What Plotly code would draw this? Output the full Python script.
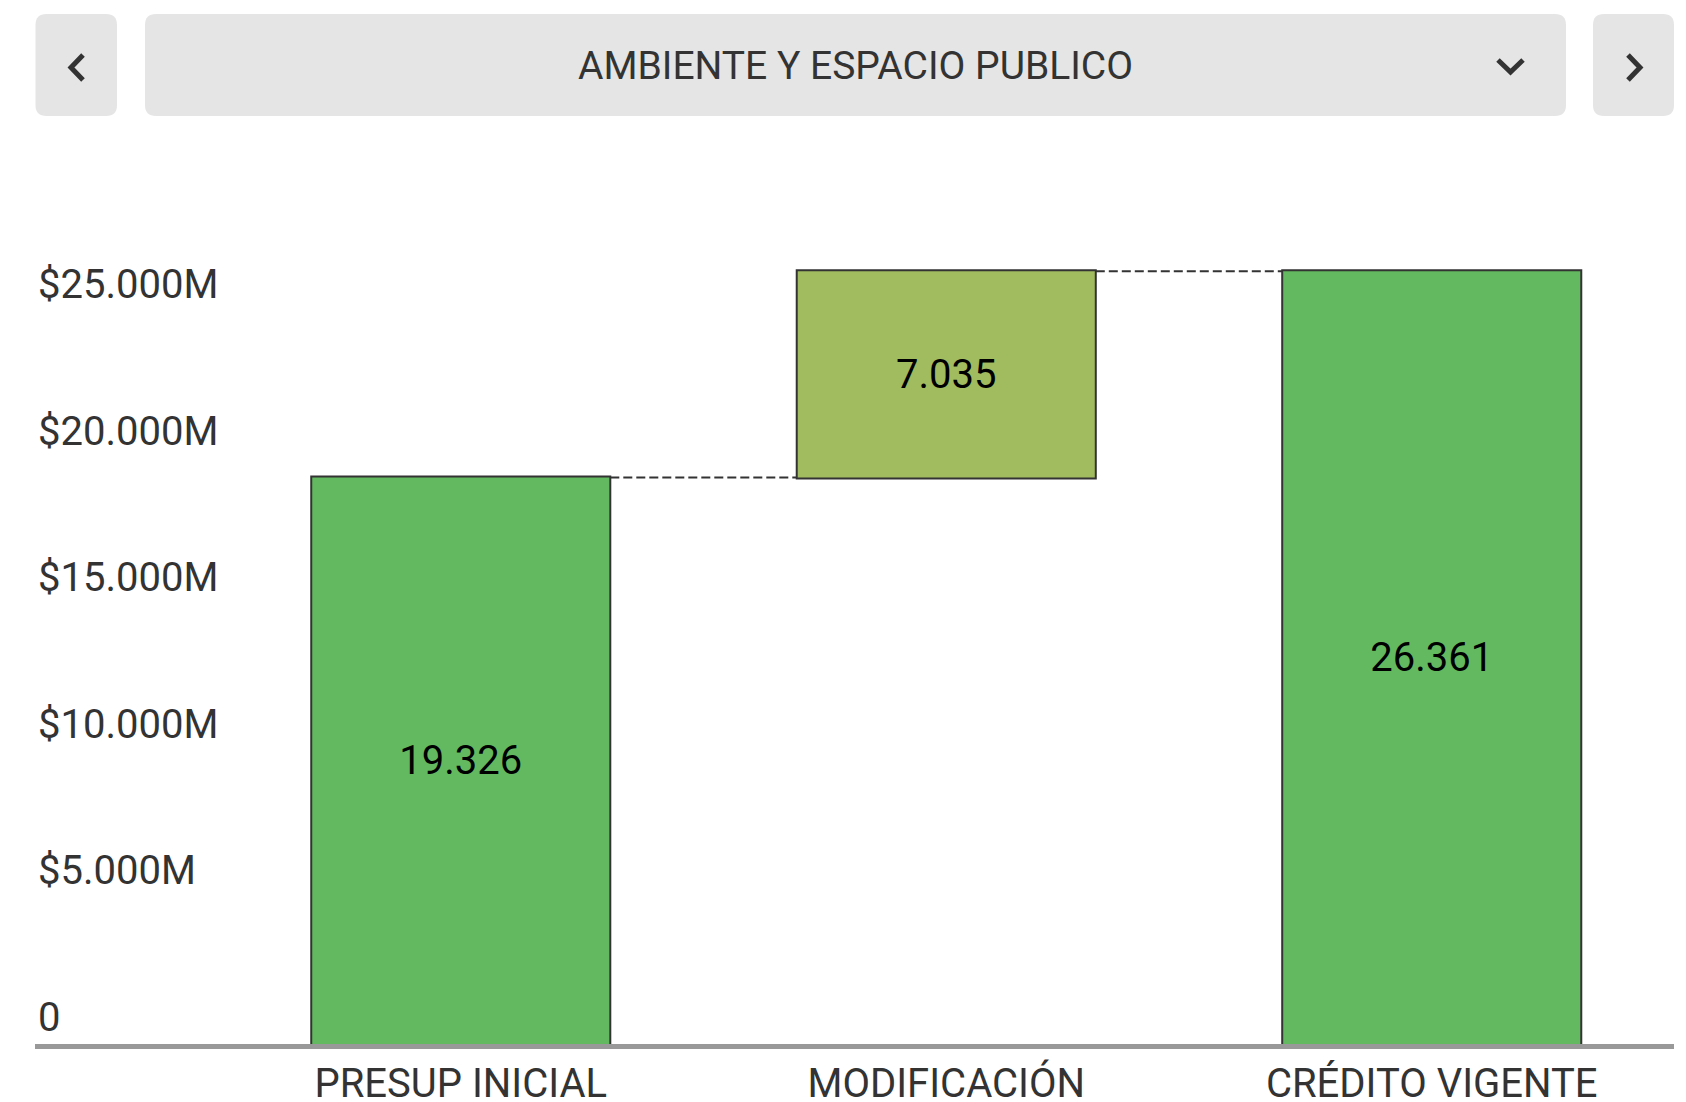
import plotly.graph_objects as go

# ---- data ----
categorias = ["PRESUP INICIAL", "MODIFICACIÓN", "CRÉDITO VIGENTE"]
medidas = ["absolute", "relative", "total"]
valores = [19326, 7035, 26361]          # millones de $
tick_vals = [0, 5000, 10000, 15000, 20000, 25000]
tick_text = ["0", "$5.000M", "$10.000M", "$15.000M", "$20.000M", "$25.000M"]
titulo = "AMBIENTE Y ESPACIO PUBLICO"

# ---- layout geometry (pixels) ----
W, H = 1686, 1102
ML, MR, MT, MB = 35, 12, 194, 58
PW, PH = W - ML - MR, H - MT - MB
YMAX = 29000
FONT = "Roboto"
TXT = "#333333"


def X(px):
    return (px - ML) / PW


def Y(py):
    return (H - MB - py) / PH


def fmt(v):
    return f"{v:,}".replace(",", ".")


fig = go.Figure()
fig.add_trace(go.Waterfall(
    x=categorias,
    y=valores,
    measure=medidas,
    text=[fmt(v) for v in valores],
    textposition="inside",
    insidetextanchor="middle",
    textangle=0,
    constraintext="none",
    textfont=dict(family=FONT, size=40, color="#000000"),
    width=0.616,
    increasing=dict(marker=dict(color="#A1BB5F", line=dict(color="#333333", width=2))),
    decreasing=dict(marker=dict(color="#A1BB5F", line=dict(color="#333333", width=2))),
    totals=dict(marker=dict(color="#63B95F", line=dict(color="#333333", width=2))),
    connector=dict(mode="between", line=dict(color="#333333", width=2, dash="9px,4px")),
    hoverinfo="skip",
    showlegend=False,
))


def rrect(x0, y0, x1, y1, r):
    pts = [
        f"M {X(x0 + r)},{Y(y0)}",
        f"L {X(x1 - r)},{Y(y0)}",
        f"Q {X(x1)},{Y(y0)} {X(x1)},{Y(y0 + r)}",
        f"L {X(x1)},{Y(y1 - r)}",
        f"Q {X(x1)},{Y(y1)} {X(x1 - r)},{Y(y1)}",
        f"L {X(x0 + r)},{Y(y1)}",
        f"Q {X(x0)},{Y(y1)} {X(x0)},{Y(y1 - r)}",
        f"L {X(x0)},{Y(y0 + r)}",
        f"Q {X(x0)},{Y(y0)} {X(x0 + r)},{Y(y0)}",
        "Z",
    ]
    return " ".join(pts)


def polyline(points):
    s = f"M {X(points[0][0])},{Y(points[0][1])}"
    for p in points[1:]:
        s += f" L {X(p[0])},{Y(p[1])}"
    return s


shapes = []
for (x0, x1) in [(35.5, 117), (145, 1566), (1593, 1674)]:
    shapes.append(dict(type="path", xref="paper", yref="paper",
                       path=rrect(x0, 14, x1, 116, 11),
                       fillcolor="#E5E5E5", line=dict(width=0), layer="below"))
# chevrons
for pts in [
    [(83, 55), (71, 67.5), (83, 80)],
    [(1498, 60), (1510.5, 72), (1523, 60)],
    [(1628, 55), (1640, 67.5), (1628, 80)],
]:
    shapes.append(dict(type="path", xref="paper", yref="paper", path=polyline(pts),
                       line=dict(color="#333333", width=5)))

fig.update_layout(
    width=W, height=H,
    margin=dict(l=ML, r=MR, t=MT, b=MB, pad=0),
    paper_bgcolor="white", plot_bgcolor="white",
    separators=",.",
    font=dict(family=FONT, color=TXT),
    shapes=shapes,
    annotations=[dict(x=X(855), y=Y(66), xref="paper", yref="paper", text=titulo,
                      showarrow=False, xanchor="center", yanchor="middle",
                      font=dict(family=FONT, size=39, color=TXT))],
    xaxis=dict(range=[-0.877, 2.499], showgrid=False, zeroline=False,
               showline=True, linecolor="#999999", linewidth=5,
               ticks="", tickfont=dict(family=FONT, size=40, color=TXT),
               automargin=False, fixedrange=True, ticklabelstandoff=0),
    yaxis=dict(range=[0, YMAX], showgrid=False, zeroline=False, showline=False,
               tickvals=tick_vals, ticktext=tick_text, ticks="",
               ticklabelposition="inside", ticklabelshift=-27, ticklabelstandoff=0,
               tickfont=dict(family=FONT, size=40, color=TXT),
               automargin=False, fixedrange=True),
    showlegend=False,
)

fig.write_html(
    "out.html",
    config={"displayModeBar": False},
    post_script="document.body.style.margin='0';document.body.style.overflow='hidden';",
)
